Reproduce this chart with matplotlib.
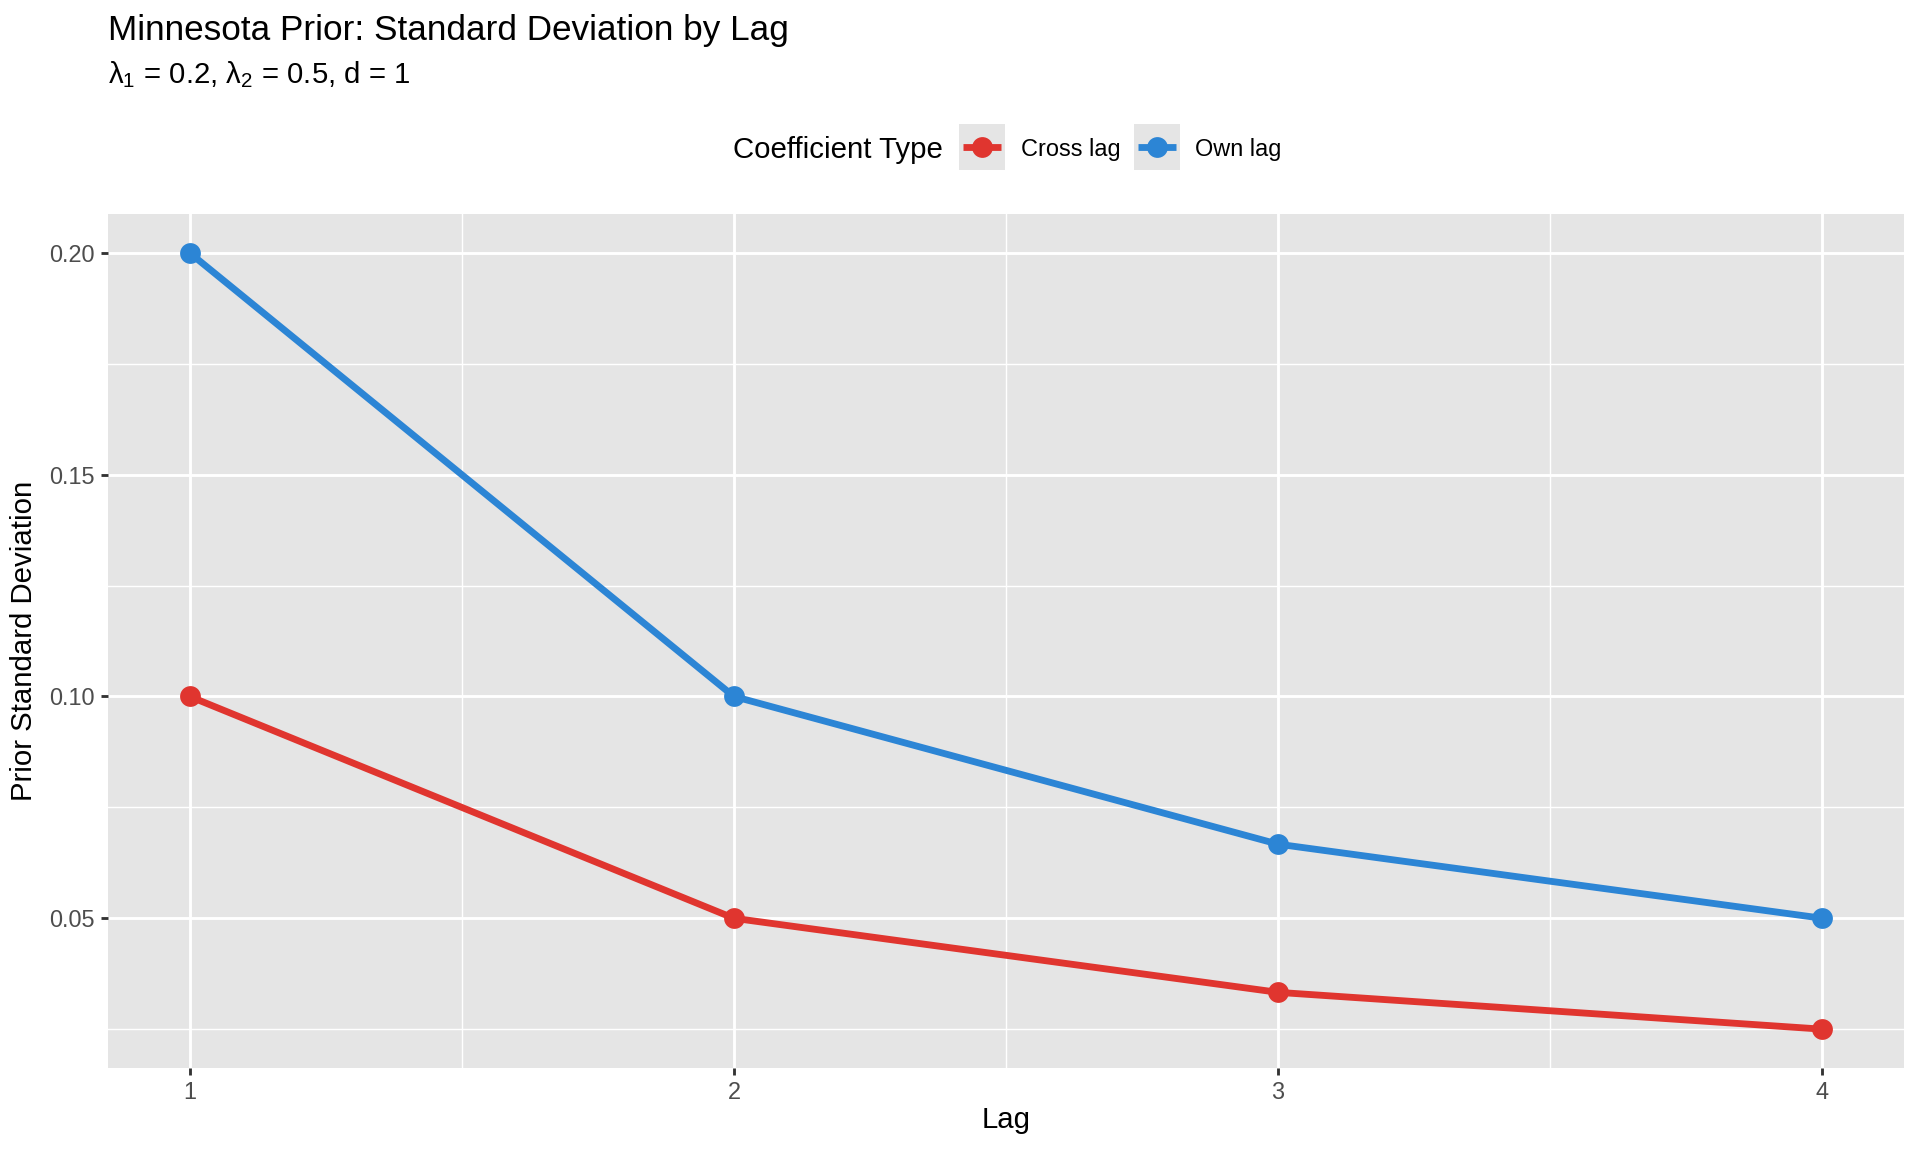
import matplotlib
matplotlib.use("Agg")
import matplotlib.pyplot as plt
from matplotlib.patches import Rectangle
from matplotlib.lines import Line2D

plt.rcParams['font.family'] = ['Liberation Sans', 'DejaVu Sans']
plt.rcParams['mathtext.fontset'] = 'custom'
plt.rcParams['mathtext.rm'] = 'Liberation Sans'
plt.rcParams['mathtext.it'] = 'Liberation Sans'
plt.rcParams['mathtext.default'] = 'regular'

# data
lags = [1, 2, 3, 4]
own_lag = [0.2, 0.1, 0.0667, 0.05]
cross_lag = [0.1, 0.05, 0.0333, 0.025]
series_names = ['Cross lag', 'Own lag']
series_colors = ['#E0352F', '#2C85D5']
y_ticks = [0.05, 0.10, 0.15, 0.20]

W, H = 1920, 1152
fig = plt.figure(figsize=(10, 6), dpi=192)

def fx(px):
    return px / W

def fy(py):
    # py counted from the top
    return 1 - py / H

panel_bg = '#E5E5E5'

# panel
left, right, top, bottom = 108, 1904, 214, 1068
ax = fig.add_axes([fx(left), fy(bottom), fx(right - left), fy(top) - fy(bottom)])
ax.set_facecolor(panel_bg)
for s in ax.spines.values():
    s.set_visible(False)

lw = 2.56
ms = 7.8
ax.plot(lags, cross_lag, color=series_colors[0], lw=lw, marker='o', ms=ms,
        mew=0, zorder=3, solid_capstyle='butt')
ax.plot(lags, own_lag, color=series_colors[1], lw=lw, marker='o', ms=ms,
        mew=0, zorder=3, solid_capstyle='butt')

# ggplot-like expansion
xr = max(lags) - min(lags)
ax.set_xlim(min(lags) - 0.05 * xr, max(lags) + 0.05 * xr)
ymin = min(cross_lag + own_lag)
ymax = max(cross_lag + own_lag)
yr = ymax - ymin
ax.set_ylim(ymin - 0.05 * yr, ymax + 0.05 * yr)

ax.set_xticks(lags)
ax.set_xticklabels([str(v) for v in lags])
ax.set_yticks(y_ticks)
ax.set_yticklabels(['%.2f' % v for v in y_ticks])
ax.set_xticks([1.5, 2.5, 3.5], minor=True)
ax.set_yticks([0.025, 0.075, 0.125, 0.175], minor=True)
ax.grid(True, which='major', color='white', lw=1.07)
ax.grid(True, which='minor', color='white', lw=0.53)
ax.set_axisbelow(True)
ax.tick_params(which='major', length=2.75, width=1.07, color='#333333',
               labelsize=8.8, labelcolor='#4D4D4D', pad=2.2)
ax.tick_params(which='minor', length=0)

ax.set_xlabel('Lag', fontsize=11, color='black', va='center')
ax.xaxis.set_label_coords(0.5, (bottom - 1120) / (bottom - top))
ax.set_ylabel('Prior Standard Deviation', fontsize=11, color='black', va='center')
ax.yaxis.set_label_coords((24 - left) / (right - left), 0.5)

# titles
fig.text(fx(108), fy(40), 'Minnesota Prior: Standard Deviation by Lag',
         fontsize=13.2, ha='left', va='baseline')
fig.text(fx(108), fy(83), 'λ$_1$ = 0.2, λ$_2$ = 0.5, d = 1',
         fontsize=11, ha='left', va='baseline')

# legend (top, horizontal)
leg_y = 147
fig.text(fx(943), fy(leg_y), 'Coefficient Type', fontsize=11, ha='right', va='center_baseline')
key_x = [959, 1134]
label_x = [1021, 1195]
for kx, lx, name, col in zip(key_x, label_x, series_names, series_colors):
    fig.add_artist(Rectangle((fx(kx), fy(leg_y + 23)), fx(46), fy(0) - fy(46),
                             transform=fig.transFigure, facecolor=panel_bg,
                             edgecolor='none'))
    fig.add_artist(Line2D([fx(kx + 4), fx(kx + 42)], [fy(leg_y), fy(leg_y)],
                          transform=fig.transFigure, color=col, lw=lw,
                          solid_capstyle='butt'))
    fig.add_artist(Line2D([fx(kx + 23)], [fy(leg_y)], transform=fig.transFigure,
                          color=col, marker='o', ms=ms, mew=0))
    fig.text(fx(lx), fy(leg_y), name, fontsize=8.8, ha='left', va='center_baseline')

fig.savefig('out.png', dpi=192)
